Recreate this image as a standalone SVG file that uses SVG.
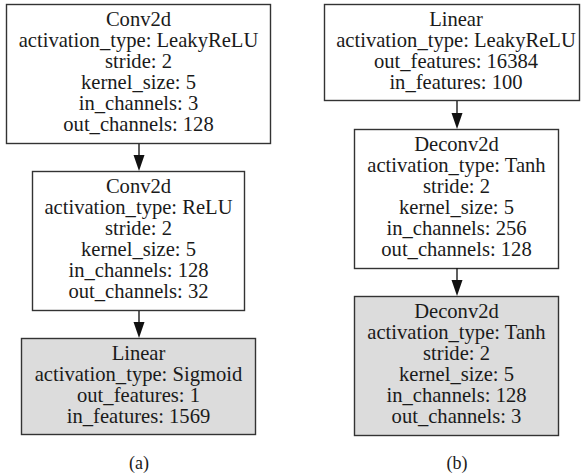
<svg xmlns="http://www.w3.org/2000/svg" width="581" height="476" viewBox="0 0 581 476">
  <style>
    .box { fill: #ffffff; stroke: #333333; stroke-width: 1.4; }
    .out { fill: #dcdcdc; }
    .lbl { font-family: "Liberation Serif", "Times New Roman", serif; font-size: 20.6px; fill: #1a1a1a; text-anchor: middle; }
    .cap { font-family: "Liberation Serif", "Times New Roman", serif; font-size: 18px; fill: #1a1a1a; text-anchor: middle; }
    .edge { stroke: #1a1a1a; stroke-width: 1.4; fill: none; }
    .head { fill: #111111; stroke: none; }
  </style>

  <!-- (a) discriminator -->
  <g id="a-conv1">
    <rect class="box" x="6.5" y="4.5" width="264" height="139"/>
    <text class="lbl"><tspan x="138.5" y="26">Conv2d</tspan><tspan x="138.5" y="47">activation_type: LeakyReLU</tspan><tspan x="138.5" y="68">stride: 2</tspan><tspan x="138.5" y="89">kernel_size: 5</tspan><tspan x="138.5" y="110">in_channels: 3</tspan><tspan x="138.5" y="131">out_channels: 128</tspan></text>
  </g>
  <g id="a-conv2">
    <rect class="box" x="32.5" y="171.5" width="212" height="139"/>
    <text class="lbl"><tspan x="138.5" y="193">Conv2d</tspan><tspan x="138.5" y="214">activation_type: ReLU</tspan><tspan x="138.5" y="235">stride: 2</tspan><tspan x="138.5" y="256">kernel_size: 5</tspan><tspan x="138.5" y="277">in_channels: 128</tspan><tspan x="138.5" y="298">out_channels: 32</tspan></text>
  </g>
  <g id="a-linear">
    <rect class="box out" x="21.5" y="338.5" width="234" height="96"/>
    <text class="lbl"><tspan x="138.5" y="360">Linear</tspan><tspan x="138.5" y="381">activation_type: Sigmoid</tspan><tspan x="138.5" y="402">out_features: 1</tspan><tspan x="138.5" y="423">in_features: 1569</tspan></text>
  </g>
  <text class="cap" x="139" y="469">(a)</text>

  <!-- (b) generator -->
  <g id="b-linear">
    <rect class="box" x="324.5" y="4.5" width="255" height="96"/>
    <text class="lbl"><tspan x="456" y="26">Linear</tspan><tspan x="456" y="47">activation_type: LeakyReLU</tspan><tspan x="456" y="68">out_features: 16384</tspan><tspan x="456" y="89">in_features: 100</tspan></text>
  </g>
  <g id="b-deconv1">
    <rect class="box" x="354.5" y="129.5" width="204" height="139"/>
    <text class="lbl"><tspan x="456.5" y="151">Deconv2d</tspan><tspan x="456.5" y="172">activation_type: Tanh</tspan><tspan x="456.5" y="193">stride: 2</tspan><tspan x="456.5" y="214">kernel_size: 5</tspan><tspan x="456.5" y="235">in_channels: 256</tspan><tspan x="456.5" y="256">out_channels: 128</tspan></text>
  </g>
  <g id="b-deconv2">
    <rect class="box out" x="354.5" y="296.5" width="204" height="139"/>
    <text class="lbl"><tspan x="456.5" y="318">Deconv2d</tspan><tspan x="456.5" y="339">activation_type: Tanh</tspan><tspan x="456.5" y="360">stride: 2</tspan><tspan x="456.5" y="381">kernel_size: 5</tspan><tspan x="456.5" y="402">in_channels: 128</tspan><tspan x="456.5" y="423">out_channels: 3</tspan></text>
  </g>
  <text class="cap" x="457" y="469">(b)</text>

  <!-- connectors -->
  <g id="connectors">
    <line class="edge" x1="139" y1="144" x2="139" y2="156"/>
    <polygon class="head" points="133.5,155 144.5,155 139,171"/>
    <line class="edge" x1="139" y1="311" x2="139" y2="323"/>
    <polygon class="head" points="133.5,322 144.5,322 139,338"/>
    <line class="edge" x1="457" y1="101" x2="457" y2="114"/>
    <polygon class="head" points="451.5,113 462.5,113 457,129"/>
    <line class="edge" x1="457" y1="268" x2="457" y2="281"/>
    <polygon class="head" points="451.5,280 462.5,280 457,296"/>
  </g>
</svg>
